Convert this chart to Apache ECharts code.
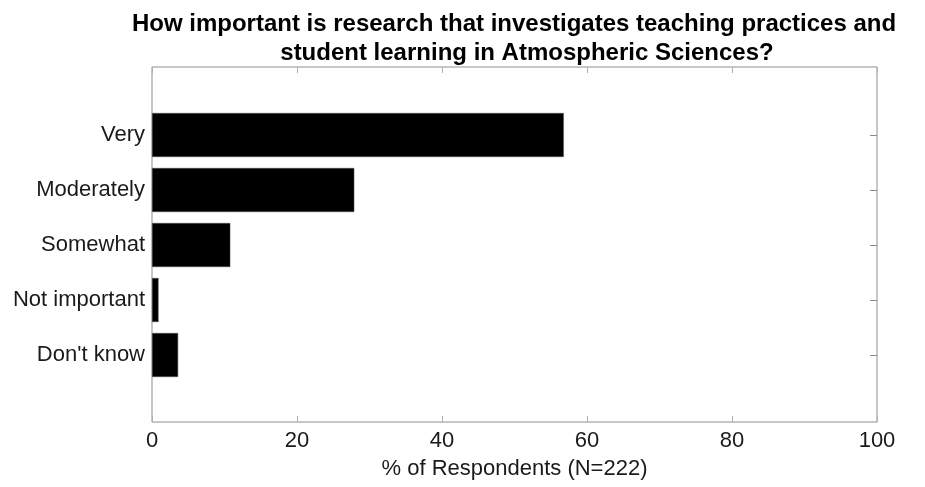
<!DOCTYPE html>
<html><head><meta charset="utf-8">
<script src="https://cdn.jsdelivr.net/npm/echarts@6/dist/echarts.min.js"></script>
<style>html,body{margin:0;padding:0;background:#fff}#c{width:925px;height:487px}</style>
</head><body><div id="c"></div>
<script>
var categories = ["Very", "Moderately", "Somewhat", "Not important", "Don't know"];
var percents = [56.8, 27.9, 10.8, 0.9, 3.6];
var xTicks = [0, 20, 40, 60, 80, 100];
var titleLines = ['How important is research that investigates teaching practices and', 'student learning in Atmospheric Sciences?'];

var font = '"Liberation Sans", Arial, sans-serif';
var titleStyle = {fontFamily: font, fontSize: 24, fontWeight: 'bold', color: '#000', lineHeight: 25};
var chart = echarts.init(document.getElementById('c'));
chart.setOption({
  animation: false,
  backgroundColor: '#fff',
  title: [
    {text: titleLines[0], left: 514, top: 12, textAlign: 'center', padding: 0, textStyle: titleStyle},
    {text: titleLines[1], left: 527, top: 41, textAlign: 'center', padding: 0, textStyle: titleStyle}
  ],
  grid: [
    {left: 152, right: 48, top: 67, bottom: 65, show: true, borderColor: '#8f8f8f', borderWidth: 1, backgroundColor: 'transparent'},
    {left: 152, right: 48, top: 107.5, bottom: 104.5}
  ],
  xAxis: [
    {gridIndex: 0, type: 'value', min: xTicks[0], max: xTicks[xTicks.length-1], interval: 20, position: 'bottom',
     axisLine: {show: false}, splitLine: {show: false},
     axisTick: {show: true, inside: true, length: 6, lineStyle: {color: '#b0b0b0'}},
     axisLabel: {fontFamily: font, fontSize: 22, color: '#1a1a1a', margin: 8},
     name: '% of Respondents (N=222)', nameLocation: 'middle', nameGap: 36,
     nameTextStyle: {fontFamily: font, fontSize: 22, color: '#1a1a1a'}},
    {gridIndex: 0, type: 'value', min: 0, max: 100, interval: 20, position: 'top',
     axisLine: {show: false}, splitLine: {show: false}, axisLabel: {show: false},
     axisTick: {show: true, inside: true, length: 6, lineStyle: {color: '#b0b0b0'}}},
    {gridIndex: 1, type: 'value', min: 0, max: 100, show: false}
  ],
  yAxis: [
    {gridIndex: 0, type: 'value', show: false},
    {gridIndex: 1, type: 'category', data: categories, inverse: true, position: 'left',
     axisLine: {show: false},
     axisTick: {show: true, inside: true, alignWithLabel: true, length: 6, lineStyle: {color: '#b0b0b0'}},
     axisLabel: {fontFamily: font, fontSize: 22, color: '#1a1a1a', margin: 7}},
    {gridIndex: 1, type: 'category', data: categories, inverse: true, position: 'right',
     axisLine: {show: false}, axisLabel: {show: false},
     axisTick: {show: true, inside: true, alignWithLabel: true, length: 7, lineStyle: {color: '#8a8a8a'}}}
  ],
  series: [{
    type: 'bar', xAxisIndex: 2, yAxisIndex: 1, data: percents,
    barWidth: '80%',
    itemStyle: {color: '#000', borderColor: '#555', borderWidth: 0.5}
  }]
});
</script></body></html>
